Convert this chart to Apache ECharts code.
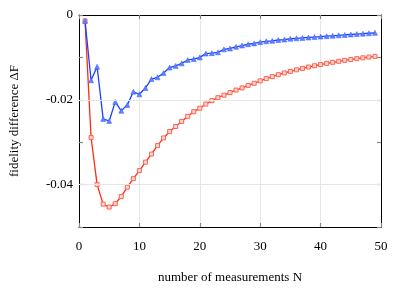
<!DOCTYPE html>
<html>
<head>
<meta charset="utf-8">
<script src="https://cdn.jsdelivr.net/npm/echarts@6/dist/echarts.min.js"></script>
<style>html,body{margin:0;padding:0;background:#fff}#c{width:415px;height:292px}</style>
</head>
<body>
<div id="c"></div>
<script>
var nValues = [1,2,3,4,5,6,7,8,9,10,11,12,13,14,15,16,17,18,19,20,21,22,23,24,25,26,27,28,29,30,31,32,33,34,35,36,37,38,39,40,41,42,43,44,45,46,47,48,49];
var redValues = [-0.0014,-0.0289,-0.0400,-0.0446,-0.0453,-0.0445,-0.0428,-0.0406,-0.0386,-0.0367,
  -0.0347,-0.0328,-0.0308,-0.0290,-0.0275,-0.0263,-0.0251,-0.0239,-0.0228,-0.0220,
  -0.0210,-0.0202,-0.0195,-0.0189,-0.0183,-0.0177,-0.0172,-0.0166,-0.0161,-0.01553,
  -0.01500,-0.01452,-0.01408,-0.01367,-0.01329,-0.01293,-0.01259,-0.01227,-0.01197,-0.01168,
  -0.01141,-0.01116,-0.01092,-0.01070,-0.01049,-0.01029,-0.01010,-0.00992,-0.00975];
var blueValues = [-0.0014,-0.0154,-0.0122,-0.0245,-0.0250,-0.0205,-0.0226,-0.0212,-0.0181,-0.0187,
  -0.0172,-0.0151,-0.0147,-0.0137,-0.0124,-0.0120,-0.0114,-0.0106,-0.0104,-0.0100,
  -0.0091,-0.0090,-0.0088,-0.0081,-0.0079,-0.0075,-0.0072,-0.0069,-0.0067,-0.0064,
  -0.0062,-0.0061,-0.0059,-0.0058,-0.0056,-0.0055,-0.0054,-0.0053,-0.0052,-0.0051,
  -0.0050,-0.0049,-0.0048,-0.0047,-0.0046,-0.0045,-0.0044,-0.0043,-0.0042];
var yLabelValues = [0, -0.02, -0.04];
var yGridValues = [-0.02, -0.04];
var xTitle = 'number of measurements N';
var yTitle = 'fidelity difference \u0394F';

function pairs(vals){ return nValues.map(function(n,i){ return [n, vals[i]]; }); }
var font = 'Liberation Serif';
var chart = echarts.init(document.getElementById('c'), null, {renderer:'canvas'});
function ticks(){ return {show:true, inside:true, length:4, lineStyle:{color:'#888', width:1.2}}; }
chart.setOption({
  animation:false,
  backgroundColor:'#fff',
  grid:{left:79, right:34, top:15, bottom:65},
  xAxis:[{
    type:'value', min:0, max:50, interval:10,
    name:xTitle, nameLocation:'middle', nameGap:44,
    nameTextStyle:{fontFamily:font, fontSize:13, color:'#000'},
    axisLine:{show:true, onZero:false, lineStyle:{color:'#000', width:1}},
    axisTick:ticks(),
    axisLabel:{fontFamily:font, fontSize:13, color:'#000', margin:13},
    splitLine:{show:true, lineStyle:{color:'#e6e6e6', width:1}}
  },{
    type:'value', min:0, max:50, interval:10, position:'top',
    axisLine:{show:true, onZero:false, lineStyle:{color:'#000', width:1}},
    axisTick:ticks(), axisLabel:{show:false}, splitLine:{show:false}
  }],
  yAxis:[{
    type:'value', min:-0.05, max:0, interval:0.01,
    name:yTitle, nameLocation:'middle', nameGap:58,
    nameTextStyle:{fontFamily:font, fontSize:13, color:'#000'},
    axisLine:{show:true, onZero:false, lineStyle:{color:'#000', width:1}},
    axisTick:ticks(),
    axisLabel:{fontFamily:font, fontSize:13, color:'#000', margin:6,
      formatter:function(v){
        for (var i=0;i<yLabelValues.length;i++){ if (Math.abs(v-yLabelValues[i])<1e-9) return String(yLabelValues[i]); }
        return '';
      }},
    splitLine:{show:false}
  },{
    type:'value', min:-0.05, max:0, interval:0.01, position:'right',
    axisLine:{show:true, onZero:false, lineStyle:{color:'#000', width:1}},
    axisTick:ticks(), axisLabel:{show:false}, splitLine:{show:false}
  }],
  series:[{
    type:'line', data:[], silent:true, z:1,
    markLine:{silent:true, symbol:'none', label:{show:false},
      lineStyle:{color:'#e6e6e6', width:1, type:'solid'},
      data:yGridValues.map(function(v){ return {yAxis:v}; })}
  },{
    type:'line', data:pairs(redValues), z:3,
    symbol:'rect', symbolSize:4,
    lineStyle:{color:'#ff2a10', width:1.3},
    itemStyle:{color:'#ffd6d0', borderColor:'#ff6450', borderWidth:1}
  },{
    type:'line', data:pairs(blueValues), z:4,
    symbol:'triangle', symbolSize:5,
    lineStyle:{color:'#1a40ff', width:1.3},
    itemStyle:{color:'#5c80ff', borderColor:'#3c60ff', borderWidth:0.5}
  }]
});
</script>
</body>
</html>
